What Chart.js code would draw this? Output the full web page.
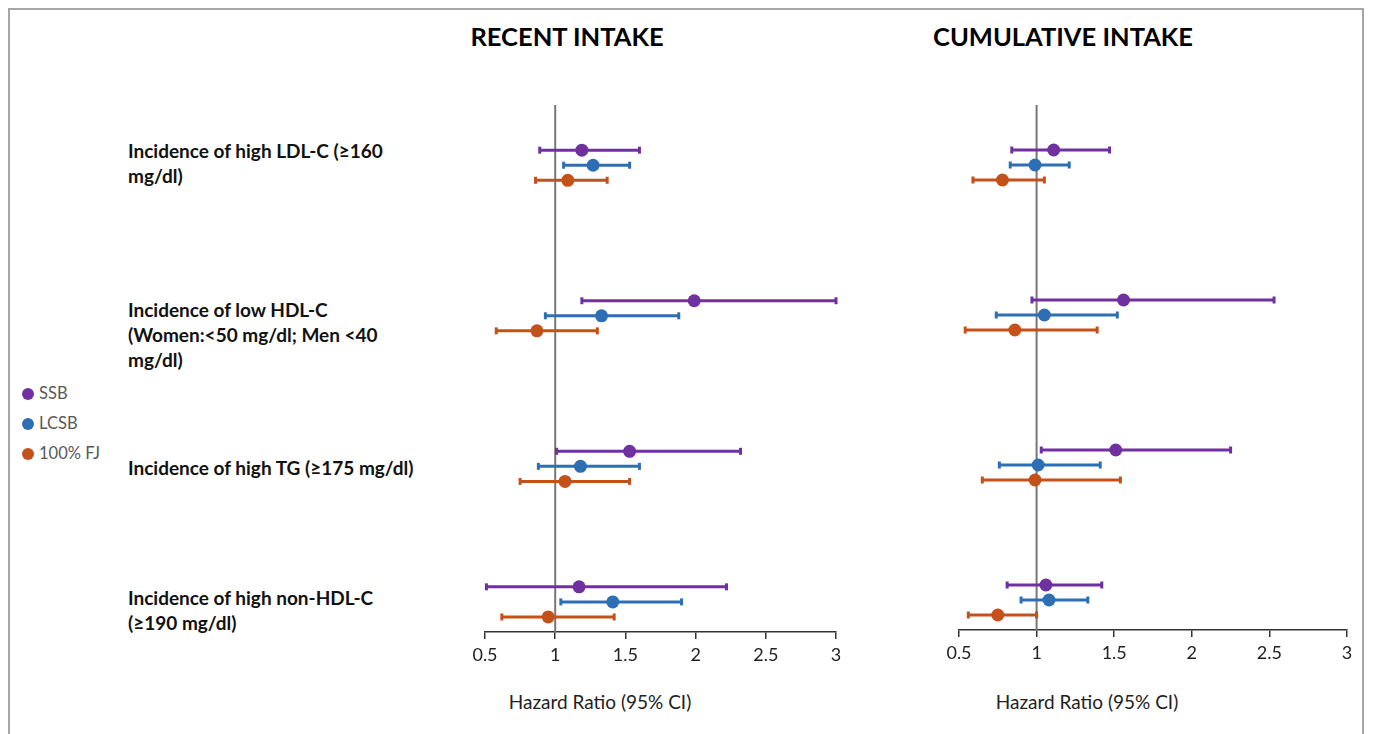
<!DOCTYPE html>
<html>
<head>
<meta charset="utf-8">
<script src="https://cdn.jsdelivr.net/npm/chart.js@4/dist/chart.umd.min.js"></script>
<style>
  body { margin: 0; width: 1375px; height: 734px; background: #fff; position: relative; overflow: hidden; font-family: Lato, "Open Sans", sans-serif; }
  .marco { position: absolute; left: 8px; top: 8px; width: 1356px; height: 740px; border: 2px solid #a6a6a6; box-sizing: border-box; }
  .titulo { position: absolute; top: 21px; font-size: 25.5px; font-weight: bold; color: #000; transform: translateX(-50%); white-space: nowrap; }
  .fila { position: absolute; left: 128px; font-size: 19px; font-weight: bold; line-height: 25px; color: #111; }
  .eje { position: absolute; top: 690px; font-size: 19px; color: #222; transform: translateX(-50%); white-space: nowrap; }
  #leyenda { position: absolute; left: 22px; top: 381px; font-size: 16.5px; color: #595959; }
  #leyenda div { height: 30px; line-height: 24px; }
  #leyenda span { display: inline-block; width: 12px; height: 12px; border-radius: 50%; margin-right: 5px; vertical-align: -1px; }
  canvas { position: absolute; }
</style>
</head>
<body>
<div class="marco"></div>
<div class="titulo" style="left:567px">RECENT INTAKE</div>
<div class="titulo" style="left:1063px">CUMULATIVE INTAKE</div>
<div id="filas"></div>
<div id="leyenda"></div>
<div class="eje" style="left:600px">Hazard Ratio (95% CI)</div>
<div class="eje" style="left:1087px">Hazard Ratio (95% CI)</div>
<canvas id="id_grafica_1" width="420" height="600" style="left:440px; top:90px"></canvas>
<canvas id="id_grafica_2" width="460" height="600" style="left:910px; top:90px"></canvas>
<script>
//---------------- DATOS ----------------
const outcomes = [
    ['Incidence of high LDL-C (≥160', 'mg/dl)'],
    ['Incidence of low HDL-C', '(Women:<50 mg/dl; Men <40', 'mg/dl)'],
    ['Incidence of high TG (≥175 mg/dl)'],
    ['Incidence of high non-HDL-C', '(≥190 mg/dl)']
];
// posicion vertical de cada desenlace (valor y del primer grupo)
const rowY = [32, 22, 12, 3];
const seriesNames = ['SSB', 'LCSB', '100% FJ'];
const seriesColors = ['#7030A0', '#2E6EB5', '#C5511A'];
const xTicks = [0.5, 1, 1.5, 2, 2.5, 3];

// RECENT INTAKE (HR, IC inferior, IC superior) por serie
const recentSSB = [1.19, 1.99, 1.53, 1.17];
const recentSSBlo = [0.89, 1.19, 1.01, 0.51];
const recentSSBhi = [1.60, 3.00, 2.32, 2.22];
const recentLCSB = [1.27, 1.33, 1.18, 1.41];
const recentLCSBlo = [1.06, 0.93, 0.88, 1.04];
const recentLCSBhi = [1.53, 1.88, 1.60, 1.90];
const recentFJ = [1.09, 0.87, 1.07, 0.95];
const recentFJlo = [0.86, 0.58, 0.75, 0.62];
const recentFJhi = [1.37, 1.30, 1.53, 1.42];

// CUMULATIVE INTAKE
const cumSSB = [1.11, 1.56, 1.51, 1.06];
const cumSSBlo = [0.84, 0.97, 1.03, 0.81];
const cumSSBhi = [1.47, 2.53, 2.25, 1.42];
const cumLCSB = [0.99, 1.05, 1.01, 1.08];
const cumLCSBlo = [0.83, 0.74, 0.76, 0.90];
const cumLCSBhi = [1.21, 1.52, 1.41, 1.33];
const cumFJ = [0.78, 0.86, 0.99, 0.75];
const cumFJlo = [0.59, 0.54, 0.65, 0.56];
const cumFJhi = [1.05, 1.39, 1.54, 1.00];

//---------------- TEXTOS HTML ----------------
const filaTop = [138, 297, 455, 585];
document.getElementById('filas').innerHTML = outcomes.map((lineas, i) =>
    `<div class="fila" style="top:${filaTop[i]}px">${lineas.map(l => l.replace(/</g, '&lt;')).join('<br>')}</div>`
).join('');

document.getElementById('leyenda').innerHTML = seriesNames.map((n, i) =>
    `<div><span style="background:${seriesColors[i]}"></span>${n}</div>`
).join('');

//---------------- GRAFICAS ----------------
const armarDatasets = (hr, lo, hi) => {
    let datasets = [];
    // linea de referencia HR = 1
    datasets.push({
        type: 'line',
        data: [{ x: 1, y: 0 }, { x: 1, y: 35 }],
        borderColor: '#777777',
        borderWidth: 2,
        pointRadius: 0,
        order: 5
    });
    hr.forEach((serie, s) => {
        serie.forEach((v, i) => {
            const y = rowY[i] - s;
            // intervalo de confianza con remates
            datasets.push({
                type: 'line',
                data: [{ x: lo[s][i], y: y }, { x: hi[s][i], y: y }],
                borderColor: seriesColors[s],
                borderWidth: 3,
                pointStyle: 'line',
                rotation: 90,
                pointRadius: 3.5,
                pointBorderWidth: 3,
                pointBorderColor: seriesColors[s],
                clip: false,
                order: 3
            });
        });
        datasets.push({
            type: 'scatter',
            data: serie.map((v, i) => ({ x: v, y: rowY[i] - s })),
            backgroundColor: seriesColors[s],
            borderWidth: 0,
            pointRadius: 6.5,
            clip: false,
            order: 1
        });
    });
    return datasets;
};

const crearGrafica = (id, hr, lo, hi, pad) => {
    const ctx = document.getElementById(id).getContext('2d');
    return new Chart(ctx, {
        type: 'scatter',
        data: { datasets: armarDatasets(hr, lo, hi) },
        options: {
            responsive: false,
            animation: false,
            events: [],
            layout: { padding: pad },
            plugins: { legend: { display: false }, tooltip: { enabled: false } },
            scales: {
                x: {
                    type: 'linear',
                    min: 0.5,
                    max: 3,
                    afterBuildTicks: (s) => { s.ticks = xTicks.map(v => ({ value: v })); },
                    afterFit: (s) => { s.height = 58; },
                    border: { display: true, color: '#333333', width: 1.5 },
                    grid: { drawOnChartArea: false, drawTicks: true, tickLength: 7, color: '#333333', lineWidth: 1.5 },
                    ticks: {
                        color: '#222222',
                        font: { family: 'Lato', size: 18 },
                        padding: 5,
                        maxRotation: 0,
                        callback: (v) => String(v)
                    }
                },
                y: { type: 'linear', min: 0, max: 35, display: false }
            }
        }
    });
};

let chart1 = crearGrafica('id_grafica_1',
    [recentSSB, recentLCSB, recentFJ],
    [recentSSBlo, recentLCSBlo, recentFJlo],
    [recentSSBhi, recentLCSBhi, recentFJhi],
    { left: 45, right: 24, top: 15, bottom: 0 });

let chart2 = crearGrafica('id_grafica_2',
    [cumSSB, cumLCSB, cumFJ],
    [cumSSBlo, cumLCSBlo, cumFJlo],
    [cumSSBhi, cumLCSBhi, cumFJhi],
    { left: 49, right: 23, top: 15, bottom: 2 });
</script>
</body>
</html>
